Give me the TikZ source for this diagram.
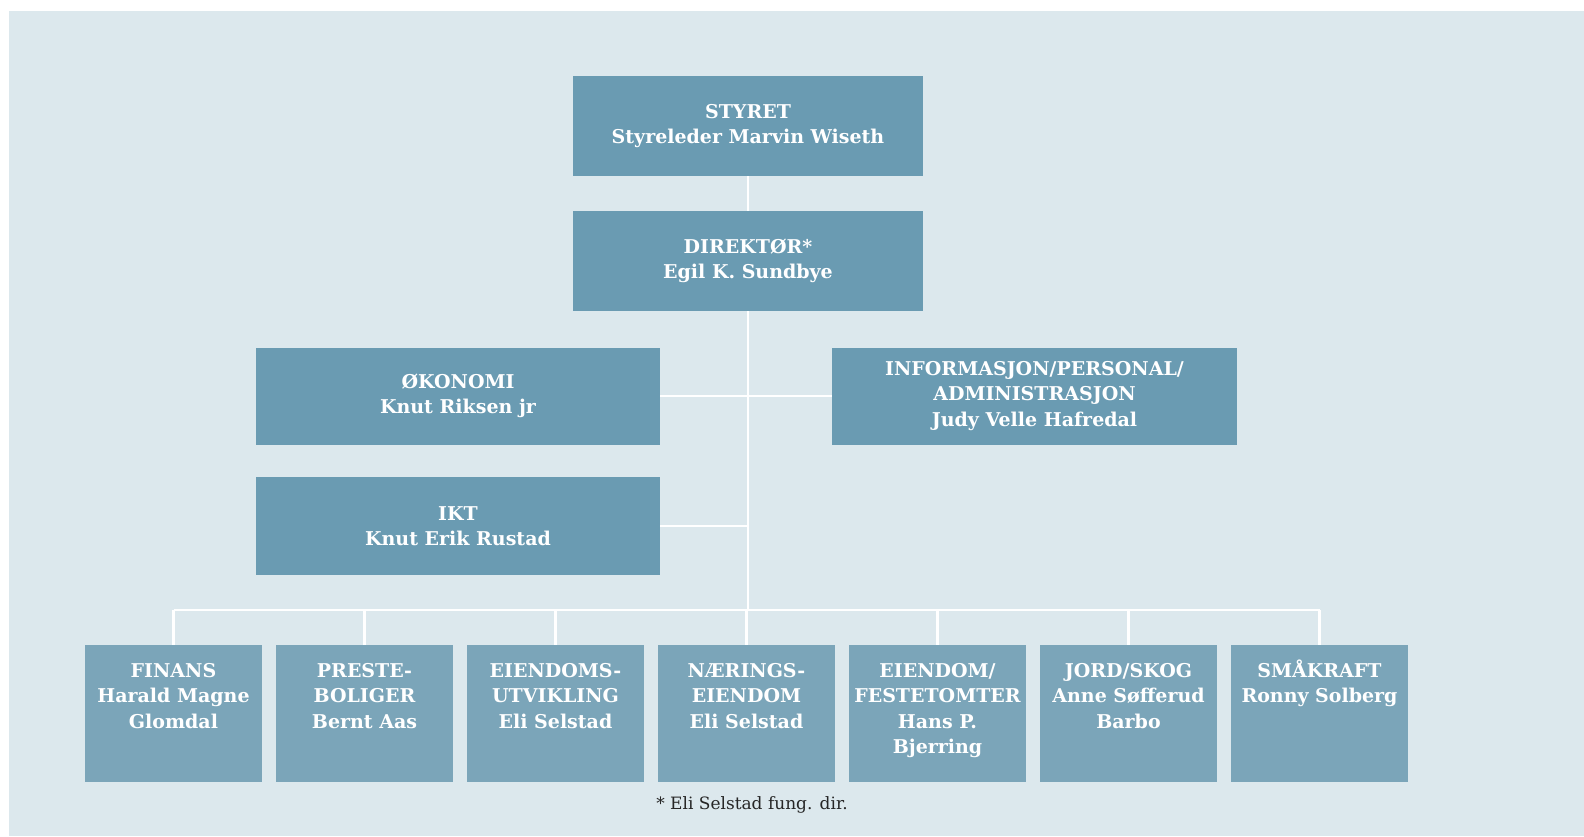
\documentclass[tikz,border=0pt]{standalone}
\usepackage{fontspec}
\setmainfont{DejaVu Serif}
\usepackage{tikz}
\definecolor{bgc}{HTML}{DCE8ED}
\definecolor{topc}{HTML}{6A9BB2}
\definecolor{lowc}{HTML}{7BA5B9}
\tikzset{
  topbox/.style={fill=topc,text=white,align=center,inner sep=0pt,font=\bfseries\fontsize{19}{25.5}\selectfont},
  lowbox/.style={fill=lowc,text=white,inner sep=0pt,minimum width=177pt,minimum height=137pt,font=\bfseries\fontsize{19}{25.5}\selectfont},
  wire/.style={draw=white,line width=2.5pt}
}

\begin{document}
\begin{tikzpicture}[x=1pt,y=-1pt]
\useasboundingbox (0,0) rectangle (1584,836);
\fill[bgc] (9,11) rectangle (1584,836);
\node[topbox,minimum width=350pt,minimum height=100pt] (styret) at (748,126) {STYRET\\Styreleder Marvin Wiseth};
\node[topbox,minimum width=350pt,minimum height=100pt] (dir) at (748,261) {DIREKTØR*\\Egil K. Sundbye};
\node[topbox,minimum width=404pt,minimum height=97pt] (oko) at (458,396) {ØKONOMI\\Knut Riksen jr};
\node[topbox,minimum width=405pt,minimum height=97pt] (info) at (1034.5,396) {INFORMASJON/PERSONAL/\\ADMINISTRASJON\\Judy Velle Hafredal};
\node[topbox,minimum width=404pt,minimum height=98pt] (ikt) at (458,526) {IKT\\Knut Erik Rustad};
\coordinate (bus) at (748,610);
\foreach \i/\x/\txt in {1/173.5/{FINANS\\Harald Magne\\Glomdal},
                        2/364.5/{PRESTE-\\BOLIGER\\Bernt Aas},
                        3/555.5/{EIENDOMS-\\UTVIKLING\\Eli Selstad},
                        4/746.5/{NÆRINGS-\\EIENDOM\\Eli Selstad},
                        5/937.5/{EIENDOM/\\FESTETOMTER\\Hans P.\\Bjerring},
                        6/1128.5/{JORD/SKOG\\Anne Søfferud\\Barbo},
                        7/1319.5/{SMÅKRAFT\\Ronny Solberg}}{
  \node[lowbox] (b\i) at (\x,713.5) {\parbox[t][137pt][t]{177pt}{\centering\vspace*{13.5pt}\rule{0pt}{18.5pt}\txt}};
}
\node[font=\fontsize{17}{20}\selectfont,text=black!85] (note) at (752,805) {* Eli Selstad fung. dir.};
\draw[wire] (styret) -- (dir);
\draw[wire] (dir) -- (bus);
\draw[wire] (oko) -- (info);
\draw[wire] (ikt.east) -- (ikt -| bus);
\draw[wire] (b1.north |- bus) -- (b7.north |- bus);
\foreach \i in {1,...,7}{\draw[wire] (b\i.north) -- (b\i.north |- bus);}
\end{tikzpicture}
\end{document}
